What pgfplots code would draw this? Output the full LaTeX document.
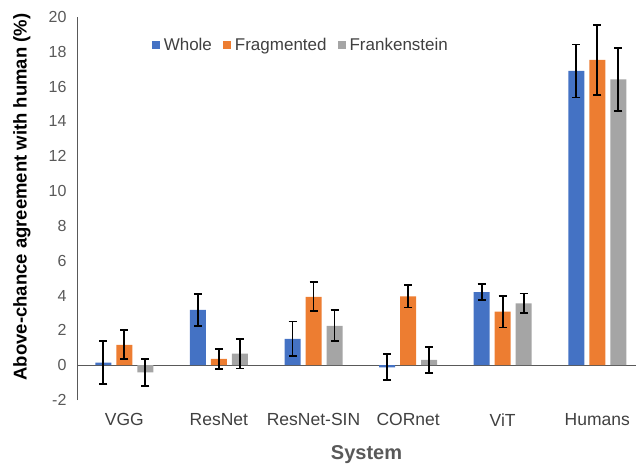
\documentclass[border=0pt]{standalone}
\usepackage{fontspec}
\setmainfont{Liberation Sans}
\usepackage{pgfplots}
\pgfplotsset{compat=1.18}
\usepackage{pgfplotstable}

\definecolor{cWhole}{HTML}{4472C4}
\definecolor{cFrag}{HTML}{ED7D31}
\definecolor{cFrank}{HTML}{A5A5A5}
\definecolor{axisgray}{HTML}{595959}
\definecolor{labelgray}{HTML}{404040}

% x = system index, y = above-chance agreement (%), e = error
\pgfplotstableread{
x y e
0 0.15 1.25
1 3.18 0.92
2 1.51 1.00
3 -0.12 0.75
4 4.20 0.45
5 16.90 1.52
}\whole
\pgfplotstableread{
x y e
0 1.17 0.83
1 0.36 0.58
2 3.93 0.83
3 3.95 0.64
4 3.07 0.91
5 17.53 2.03
}\fragmented
\pgfplotstableread{
x y e
0 -0.42 0.76
1 0.66 0.85
2 2.26 0.89
3 0.30 0.73
4 3.55 0.57
5 16.42 1.80
}\frankenstein

\begin{document}
\begin{tikzpicture}
\begin{axis}[
  name=ax,
  scale only axis,
  width=559pt, height=383pt,
  xmin=-0.5, xmax=5.409,
  ymin=-2, ymax=20,
  ytick={-2,0,...,20},
  xtick={0,...,5},
  xticklabels={VGG,ResNet,ResNet-SIN,CORnet,ViT,Humans},
  axis y line*=left,
  axis x line*=bottom,
  x axis line style={draw=none},
  y axis line style={draw=axisgray, line width=0.8pt},
  major tick length=0pt,
  extra y ticks={0},
  extra y tick labels={},
  extra y tick style={grid=major, major grid style={draw=axisgray, line width=0.8pt}},
  /pgf/number format/assume math mode=true,
  yticklabel style={font=\fontsize{16}{18}\selectfont, text=axisgray, xshift=-7pt},
  xticklabel style={font=\fontsize{17.5}{20}\selectfont, text=labelgray, yshift=-10pt},
  ylabel={Above-chance agreement with human (\%)},
  ylabel style={font=\fontsize{18.5}{22}\selectfont\bfseries, text=black,
    at={(axis description cs:-0.0984,0.53)}, anchor=center},
  xlabel={System},
  xlabel style={font=\fontsize{20}{24}\selectfont\bfseries, text=axisgray,
    at={(axis description cs:0.518,-0.1436)}, anchor=center},
  ybar=5pt,
  bar width=16pt,
  legend columns=3,
  legend style={at={(axis description cs:0.128,0.927)}, anchor=west,
    draw=none, fill=none, font=\fontsize{17}{20}\selectfont, text=labelgray,
    /tikz/every odd column/.append style={column sep=2pt},
    /tikz/every even column/.append style={column sep=9pt}},
  legend image code/.code={\fill[#1] (0pt,-4pt) rectangle (8pt,4pt);},
  every axis plot/.append style={
    error bars/y dir=both, error bars/y explicit,
    error bars/error bar style={line width=1.8pt, black},
    error bars/error mark options={rotate=90, mark size=4pt, line width=1.8pt, black}},
]
\addplot[fill=cWhole, draw=none] table[x=x, y=y, y error=e] {\whole};
\addplot[fill=cFrag, draw=none] table[x=x, y=y, y error=e] {\fragmented};
\addplot[fill=cFrank, draw=none] table[x=x, y=y, y error=e] {\frankenstein};
\legend{Whole, Fragmented, Frankenstein}
\end{axis}
\pgfresetboundingbox
\path[use as bounding box] ([xshift=-77pt,yshift=-65pt]ax.south west) rectangle ([yshift=17pt]ax.north east);
\end{tikzpicture}
\end{document}
